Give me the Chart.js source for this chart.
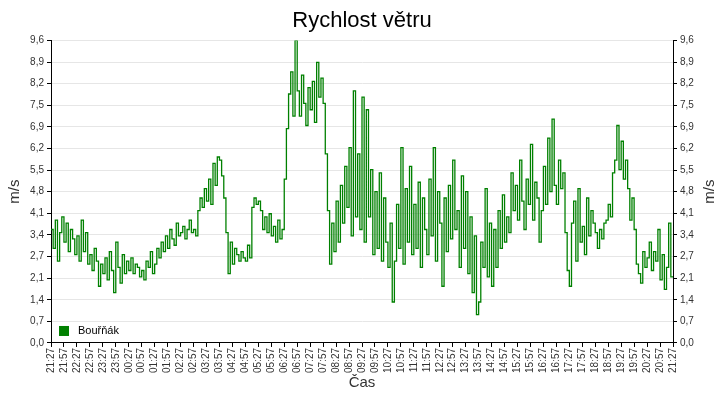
<!DOCTYPE html>
<html><head><meta charset="utf-8">
<script src="https://cdn.jsdelivr.net/npm/chart.js@4.4.0/dist/chart.umd.min.js"></script>
<style>html,body{margin:0;background:#fff}#w{width:720px;height:400px}</style>
</head><body><div id="w"><canvas id="c"></canvas></div>
<script>
const tickLabels = ["21:27","21:57","22:27","22:57","23:27","23:57","00:27","00:57","01:27","01:57","02:27","02:57","03:27","03:57","04:27","04:57","05:27","05:57","06:27","06:57","07:27","07:57","08:27","08:57","09:27","09:57","10:27","10:57","11:27","11:57","12:27","12:57","13:27","13:57","14:27","14:57","15:27","15:57","16:27","16:57","17:27","17:57","18:27","18:57","19:27","19:57","20:27","20:57","21:27"];
const yTicks = [0,0.6857,1.3714,2.0571,2.7429,3.4286,4.1143,4.8,5.4857,6.1714,6.8571,7.5429,8.2286,8.9143,9.6];
const seriesName = "Bouřňák";
const windSpeed = [
3.6,3.0,3.9,2.6,3.5,4.0,
3.2,3.8,2.9,3.6,3.3,2.8,
3.4,2.6,3.9,2.9,3.5,2.5,
2.8,2.3,3.0,2.6,1.8,2.5,
2.2,2.7,2.0,2.9,2.3,1.6,
3.2,2.4,1.9,2.8,2.2,2.6,
2.3,2.7,2.2,2.5,2.4,2.1,
2.3,2.0,2.6,2.4,2.9,2.2,
2.5,3.0,2.7,3.2,2.9,3.4,
3.0,3.6,3.3,3.1,3.8,3.4,
3.5,3.7,3.3,3.6,3.9,3.5,
3.6,3.4,4.2,4.6,4.3,4.9,
4.5,5.2,4.4,5.7,5.0,5.9,
5.8,5.3,4.6,3.5,2.2,3.2,
2.5,3.0,2.8,2.6,2.9,2.7,
2.6,3.1,2.7,4.3,4.6,4.4,
4.5,4.2,3.6,4.0,3.5,4.1,
3.4,3.7,3.2,3.9,3.3,3.6,
5.2,6.8,7.9,8.6,7.2,9.6,
8.0,7.2,8.5,7.6,6.9,8.1,
7.4,8.3,7.0,8.9,7.8,8.4,
7.6,6.0,4.2,2.5,3.8,2.9,
4.5,3.2,5.0,3.8,5.6,4.3,
6.2,3.4,8.0,4.0,6.0,3.6,
7.8,3.2,7.4,4.0,5.5,2.8,
4.8,3.0,5.4,2.6,4.6,3.2,
2.4,3.8,1.3,2.6,4.4,3.0,
6.2,2.5,4.9,3.2,5.6,2.8,
4.4,3.0,5.1,2.4,4.6,3.6,
2.8,5.2,3.4,6.2,2.6,4.8,
3.8,1.8,4.6,2.9,5.0,3.3,
5.8,3.6,4.2,2.4,5.3,3.0,
4.8,2.2,4.0,1.6,3.4,0.9,
1.3,3.2,2.4,4.9,2.1,3.8,
1.8,3.6,2.4,4.2,3.0,4.7,
3.2,4.0,3.5,5.4,4.2,5.0,
3.9,5.8,4.5,3.6,5.2,4.4,
6.3,3.9,5.1,4.6,3.2,4.2,
5.6,4.4,6.5,4.8,7.1,5.0,
4.4,5.8,4.9,5.4,3.5,2.3,
1.8,3.8,4.5,2.6,4.9,3.2,
3.7,2.8,4.6,3.4,4.2,3.8,
3.5,3.0,3.6,3.3,3.8,3.9,
4.4,4.0,5.4,5.8,6.9,5.5,
6.4,5.2,5.8,4.9,3.9,4.6,
3.6,2.5,2.2,1.9,2.9,2.4,
2.7,3.2,2.3,2.9,2.6,3.6,
2.0,2.8,1.7,2.4,3.8,2.1,
2.1];
const pointsPerLabel = 6;

const F = "'Liberation Sans', Arial, sans-serif";
const fmt = v => (Math.round(v*10)/10).toFixed(1).replace('.',',');
const yScale = (pos) => ({
  position: pos, min: 0, max: 9.6,
  afterBuildTicks: s => { s.ticks = yTicks.map(v => ({value: v})); },
  afterFit: s => { s.width = 47; },
  ticks: { callback: fmt, color: '#333', font: {family: F, size: 10}, padding: 3 },
  grid: { display: true, drawOnChartArea: pos === 'left', color: '#e6e6e6', drawTicks: true, tickLength: 4, tickColor: '#000' },
  border: { display: true, color: '#000' },
  title: { display: pos === 'left', text: 'm/s', color: '#333', font: {family: F, size: 15}, padding: 2 }
});
const extraPlugin = {
  id: 'lg',
  afterDatasetsDraw(ch) {
    const c = ch.ctx, a = ch.chartArea;
    c.save();
    c.fillStyle = '#008000';
    c.fillRect(a.left + 8, a.bottom - 17, 10, 10);
    c.fillStyle = '#000'; c.font = '11px ' + F; c.textBaseline = 'middle';
    c.fillText(seriesName, a.left + 27, a.bottom - 12);
    c.translate(710, (a.top + a.bottom) / 2);
    c.rotate(-Math.PI / 2);
    c.fillStyle = '#333'; c.font = '15px ' + F; c.textAlign = 'center';
    c.fillText('m/s', 0, 0);
    c.restore();
  }
};
new Chart(document.getElementById('c'), {
  type: 'line',
  data: { datasets: [{
    label: seriesName,
    data: windSpeed.map((v, i) => ({x: i, y: v})),
    borderColor: '#008000', borderWidth: 1.3, pointRadius: 0, stepped: true, fill: false
  }]},
  options: {
    responsive: true, maintainAspectRatio: false, animation: false,
    layout: { padding: {left: 4, right: 0, top: 0, bottom: 8} },
    plugins: {
      legend: { display: false }, tooltip: { enabled: false },
      title: { display: true, text: 'Rychlost větru', color: '#000', font: {family: F, size: 22, weight: 'normal'}, padding: {top: 8, bottom: 6} }
    },
    scales: {
      x: {
        type: 'linear', min: 0, max: windSpeed.length - 1,
        afterBuildTicks: s => { s.ticks = tickLabels.map((t, i) => ({value: i * pointsPerLabel})); },
        ticks: { autoSkip: false, maxRotation: 90, minRotation: 90, color: '#333', font: {family: F, size: 10}, padding: 1,
          callback: (v) => tickLabels[Math.round(v / pointsPerLabel)] },
        grid: { display: true, drawOnChartArea: false, tickLength: 4, tickColor: '#000' },
        border: { color: '#000' },
        title: { display: true, text: 'Čas', color: '#333', font: {family: F, size: 15}, padding: 0 }
      },
      y: yScale('left'),
      y2: yScale('right')
    }
  },
  plugins: [extraPlugin]
});
</script></body></html>
